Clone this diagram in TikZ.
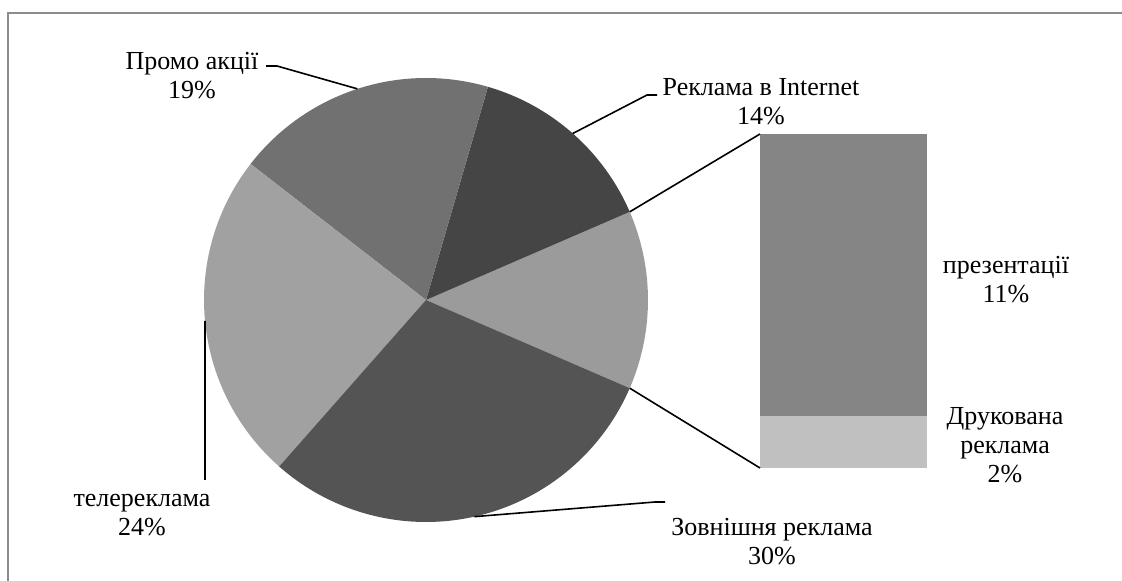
\documentclass[tikz,border=0pt]{standalone}
\usepackage{fontspec}
\setmainfont{Liberation Serif}
\definecolor{cPromo}{HTML}{717171}
\definecolor{cNet}{HTML}{454545}
\definecolor{cOther}{HTML}{9B9B9B}
\definecolor{cOut}{HTML}{545454}
\definecolor{cTv}{HTML}{A1A1A1}
\definecolor{cPres}{HTML}{858585}
\definecolor{cPrint}{HTML}{C0C0C0}
\definecolor{cFrame}{HTML}{8C8C8C}
\tikzset{
  lbl/.style={align=center,inner sep=0pt,font=\fontsize{26}{29}\selectfont},
  leader/.style={draw=black,line width=1.6pt}
}
\begin{document}
\begin{tikzpicture}[x=1pt,y=1pt]
\useasboundingbox (0,0) rectangle (1122,581);
\draw[cFrame,line width=2pt] (8,0) -- (8,568) -- (1122,568);
\coordinate (O) at (426,281);
\def\R{222}
% slices
\fill[cOther] (O) -- ++(-23.4:\R) arc[start angle=-23.4,end angle=23.4,radius=\R] -- cycle;
\fill[cNet] (O) -- ++(23.4:\R) arc[start angle=23.4,end angle=73.8,radius=\R] -- cycle;
\fill[cPromo] (O) -- ++(73.8:\R) arc[start angle=73.8,end angle=142.2,radius=\R] -- cycle;
\fill[cTv] (O) -- ++(142.2:\R) arc[start angle=142.2,end angle=228.6,radius=\R] -- cycle;
\fill[cOut] (O) -- ++(228.6:\R) arc[start angle=228.6,end angle=336.6,radius=\R] -- cycle;
% points on the pie
\path (O) ++(108:\R) coordinate (pPromo);
\path (O) ++(48.6:\R) coordinate (pNet);
\path (O) ++(185.4:\R) coordinate (pTv);
\path (O) ++(282.6:\R) coordinate (pOut);
\path (O) ++(23.4:\R) coordinate (pTop);
\path (O) ++(-23.4:\R) coordinate (pBot);
% bar
\fill[cPres] (760,165) rectangle (927,447);
\fill[cPrint] (760,113) rectangle (927,165);
\coordinate (barTL) at (760,447);
\coordinate (barBL) at (760,113);
% labels
\node[lbl] (lPromo) at (192,505) {Промо акції\\19\%};
\node[lbl] (lNet) at (761,479) {Реклама в Internet\\14\%};
\node[lbl] (lPres) at (1006,301) {презентації\\11\%};
\node[lbl] (lPrint) at (1005,136) {Друкована\\реклама\\2\%};
\node[lbl] (lTv) at (142,66) {телереклама\\24\%};
\node[lbl] (lOut) at (772,39) {Зовнішня реклама\\30\%};
% leader bends
\coordinate (kPromoA) at (266,515);
\coordinate (kPromoB) at (277,515);
\coordinate (kNetA) at (647,486);
\coordinate (kNetB) at (657,486);
\coordinate (kTv) at (205,101);
\coordinate (kOutA) at (655,79);
\coordinate (kOutB) at (665,79);
% leaders
\draw[leader] (kPromoA) -- (kPromoB) -- (pPromo);
\draw[leader] (pNet) -- (kNetA) -- (kNetB);
\draw[leader] (pTv) -- (kTv);
\draw[leader] (pOut) -- (kOutA) -- (kOutB);
\draw[leader] (pTop) -- (barTL);
\draw[leader] (pBot) -- (barBL);
\end{tikzpicture}
\end{document}
